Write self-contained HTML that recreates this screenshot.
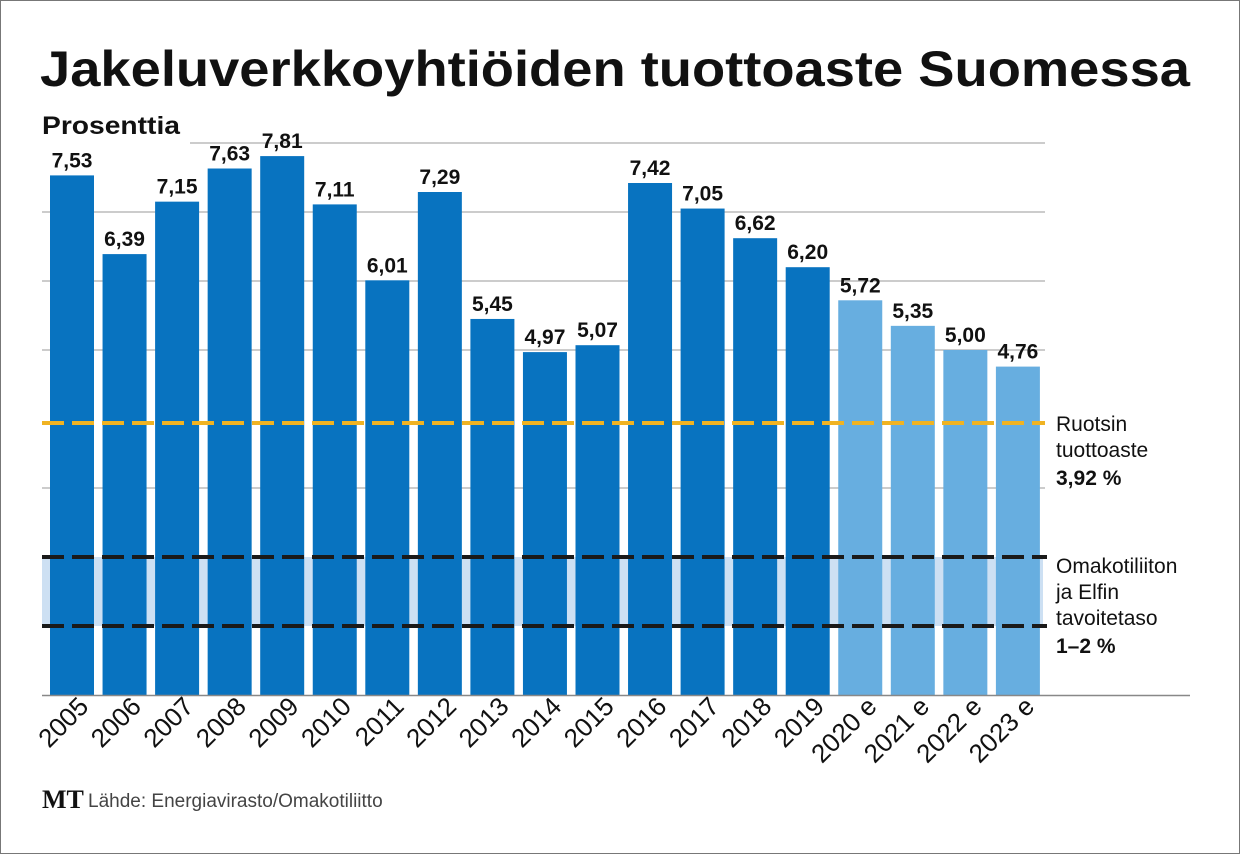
<!DOCTYPE html>
<html><head><meta charset="utf-8"><style>body{margin:0;background:#fff}svg{display:block}</style></head><body>
<svg width="1240" height="854" viewBox="0 0 1240 854" xmlns="http://www.w3.org/2000/svg" font-family="Liberation Sans, sans-serif">
<rect x="0.5" y="0.5" width="1239" height="853" fill="#fff" stroke="#777"/>
<text x="40" y="86" font-size="50" font-weight="bold" fill="#111" textLength="1150" lengthAdjust="spacingAndGlyphs">Jakeluverkkoyhtiöiden tuottoaste Suomessa</text>
<text x="42" y="134" font-size="25" font-weight="bold" fill="#111" textLength="138" lengthAdjust="spacingAndGlyphs">Prosenttia</text>
<g stroke="#999" stroke-width="1">
<line x1="190" y1="143" x2="1045" y2="143"/>
<line x1="42" y1="212" x2="1045" y2="212"/>
<line x1="42" y1="281" x2="1045" y2="281"/>
<line x1="42" y1="350" x2="1045" y2="350"/>
<line x1="42" y1="488" x2="1045" y2="488"/>
</g>
<rect x="42" y="557" width="1001" height="69" fill="#cde0f3"/>
<g fill="#0873c0">
<rect x="50" y="175.4" width="44" height="519.6"/>
<rect x="102.55" y="254.1" width="44" height="440.9"/>
<rect x="155.1" y="201.65" width="44" height="493.35"/>
<rect x="207.65" y="168.5" width="44" height="526.5"/>
<rect x="260.2" y="156.1" width="44" height="538.9"/>
<rect x="312.75" y="204.4" width="44" height="490.6"/>
<rect x="365.3" y="280.3" width="44" height="414.7"/>
<rect x="417.85" y="192" width="44" height="503"/>
<rect x="470.4" y="318.95" width="44" height="376.05"/>
<rect x="522.95" y="352.1" width="44" height="342.9"/>
<rect x="575.5" y="345.2" width="44" height="349.8"/>
<rect x="628.05" y="183" width="44" height="512"/>
<rect x="680.6" y="208.55" width="44" height="486.45"/>
<rect x="733.15" y="238.2" width="44" height="456.8"/>
<rect x="785.7" y="267.2" width="44" height="427.8"/>
</g>
<g fill="#67aee0">
<rect x="838.25" y="300.3" width="44" height="394.7"/>
<rect x="890.8" y="325.85" width="44" height="369.15"/>
<rect x="943.35" y="350" width="44" height="345"/>
<rect x="995.9" y="366.6" width="44" height="328.4"/>
</g>
<g font-size="21" font-weight="bold" fill="#111" text-anchor="middle">
<text x="72" y="167.4">7,53</text>
<text x="124.55" y="246.1">6,39</text>
<text x="177.1" y="193.65">7,15</text>
<text x="229.65" y="160.5">7,63</text>
<text x="282.2" y="148.1">7,81</text>
<text x="334.75" y="196.4">7,11</text>
<text x="387.3" y="272.3">6,01</text>
<text x="439.85" y="184">7,29</text>
<text x="492.4" y="310.95">5,45</text>
<text x="544.95" y="344.1">4,97</text>
<text x="597.5" y="337.2">5,07</text>
<text x="650.05" y="175">7,42</text>
<text x="702.6" y="200.55">7,05</text>
<text x="755.15" y="230.2">6,62</text>
<text x="807.7" y="259.2">6,20</text>
<text x="860.25" y="292.3">5,72</text>
<text x="912.8" y="317.85">5,35</text>
<text x="965.35" y="342">5,00</text>
<text x="1017.9" y="358.6">4,76</text>
</g>
<line x1="42" y1="695.5" x2="1190" y2="695.5" stroke="#888" stroke-width="1.5"/>
<line x1="42" y1="423" x2="1045" y2="423" stroke="#f0b323" stroke-width="4" stroke-dasharray="22,8"/>
<line x1="42" y1="557" x2="1047" y2="557" stroke="#1a1a1a" stroke-width="4" stroke-dasharray="22,8"/>
<line x1="42" y1="626" x2="1047" y2="626" stroke="#1a1a1a" stroke-width="4" stroke-dasharray="22,8"/>
<g font-size="21" fill="#111">
<text x="1056" y="431">Ruotsin</text>
<text x="1056" y="457">tuottoaste</text>
<text x="1056" y="485" font-weight="bold">3,92 %</text>
<text x="1056" y="573">Omakotiliiton</text>
<text x="1056" y="599">ja Elfin</text>
<text x="1056" y="625">tavoitetaso</text>
<text x="1056" y="653" font-weight="bold">1–2 %</text>
</g>
<text x="42" y="808" font-family="Liberation Serif, serif" font-weight="bold" font-size="26" fill="#111">MT</text>
<text x="88" y="807" font-size="19" fill="#444">Lähde: Energiavirasto/Omakotiliitto</text>
<g font-size="26" fill="#111" text-anchor="end">
<text transform="translate(90,708) rotate(-45)">2005</text>
<text transform="translate(142.55,708) rotate(-45)">2006</text>
<text transform="translate(195.1,708) rotate(-45)">2007</text>
<text transform="translate(247.65,708) rotate(-45)">2008</text>
<text transform="translate(300.2,708) rotate(-45)">2009</text>
<text transform="translate(352.75,708) rotate(-45)">2010</text>
<text transform="translate(405.3,708) rotate(-45)">2011</text>
<text transform="translate(457.85,708) rotate(-45)">2012</text>
<text transform="translate(510.4,708) rotate(-45)">2013</text>
<text transform="translate(562.95,708) rotate(-45)">2014</text>
<text transform="translate(615.5,708) rotate(-45)">2015</text>
<text transform="translate(668.05,708) rotate(-45)">2016</text>
<text transform="translate(720.6,708) rotate(-45)">2017</text>
<text transform="translate(773.15,708) rotate(-45)">2018</text>
<text transform="translate(825.7,708) rotate(-45)">2019</text>
<text transform="translate(878.25,708) rotate(-45)">2020 e</text>
<text transform="translate(930.8,708) rotate(-45)">2021 e</text>
<text transform="translate(983.35,708) rotate(-45)">2022 e</text>
<text transform="translate(1035.9,708) rotate(-45)">2023 e</text>
</g>
</svg>
</body></html>
